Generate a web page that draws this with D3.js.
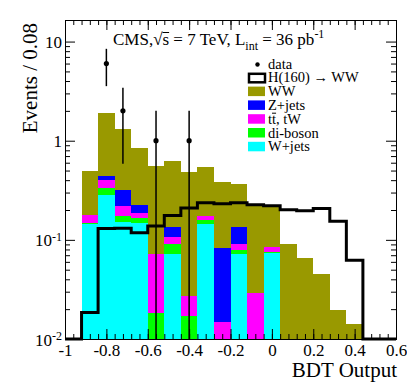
<!DOCTYPE html>
<html>
<head>
<meta charset="utf-8">
<script src="https://d3js.org/d3.v7.min.js"></script>
<style>
  body { margin: 0; background: #fff; }
  text { font-family: "Liberation Serif", "Times New Roman", serif; fill: #000; }
</style>
</head>
<body>
<svg id="chart" width="407" height="390"></svg>
<script>
// bins of BDT output, width 0.08
var binLow = [-1.00, -0.92, -0.84, -0.76, -0.68, -0.60, -0.52, -0.44, -0.36, -0.28,
              -0.20, -0.12, -0.04, 0.04, 0.12, 0.20, 0.28, 0.36, 0.44, 0.52];
var binWidth = 0.08;

// backgrounds, stacked bottom -> top
var wjets   = [0, 0.146, 0.286, 0.151, 0.149, 0, 0.0726, 0, 0.146, 0, 0.0726, 0, 0.0745, 0, 0, 0, 0, 0, 0, 0];
var diboson = [0, 0.003, 0.049, 0.022, 0.018, 0.0185, 0.0174, 0.0171, 0.014, 0, 0.0057, 0, 0.001, 0, 0, 0, 0, 0, 0, 0];
var ttbar   = [0, 0.031, 0.065, 0.049, 0.019, 0.054, 0.017, 0.0101, 0.015, 0.0147, 0.0133, 0.0292, 0.0095, 0, 0, 0, 0, 0, 0, 0];
var zjets   = [0, 0, 0.040, 0.098, 0.040, 0, 0.028, 0, 0, 0.0683, 0.0434, 0, 0, 0, 0, 0, 0, 0, 0, 0];
var ww      = [0, 0.311, 1.48, 0.99, 0.624, 0.484, 0.495, 0.453, 0.37, 0.304, 0.232, 0.188, 0.131, 0.0916, 0.0662, 0.0457, 0.0195, 0.0142, 0, 0];
// signal H(160) -> WW
var higgs   = [0, 0.0185, 0.130, 0.131, 0.118, 0.138, 0.176, 0.209, 0.237, 0.231, 0.237, 0.226, 0.221, 0.201, 0.197, 0.207, 0.154, 0.0622, 0, 0];
// observed events
var dataEv  = [0, 0, 6, 2, 0, 1, 0, 1, 0, 0, 0, 0, 0, 0, 0, 0, 0, 0, 0, 0];

var xMajor = [-1, -0.8, -0.6, -0.4, -0.2, 0, 0.2, 0.4, 0.6];
var xLabels = ["-1", "-0.8", "-0.6", "-0.4", "-0.2", "0", "0.2", "0.4", "0.6"];
var yMajor = [0.01, 0.1, 1, 10];
var yLabBase = ["10", "10", "1", "10"];
var yLabSup = ["-2", "-1", "", ""];

var layers = [
  {name: "W+jets", vals: wjets, color: "#00ffff"},
  {name: "di-boson", vals: diboson, color: "#00ff00"},
  {name: "tt, tW", vals: ttbar, color: "#ff00ff"},
  {name: "Z+jets", vals: zjets, color: "#0000ff"},
  {name: "WW", vals: ww, color: "#999900"}
];

var L = 65, R = 396, T = 20, B = 339;
var yMin = 0.01, yMax = 16.5;
var svg = d3.select("#chart");

var x = d3.scaleLinear().domain([-1, 0.6]).range([L, R]);
var y = d3.scaleLog().domain([yMin, yMax]).range([B, T]);
function yc(v){ return y(Math.max(v, yMin)); }

// stacked histogram
var cum = binLow.map(function(){ return 0; });
layers.forEach(function(ly){
  var g = svg.append("g");
  binLow.forEach(function(lo, i){
    var v0 = cum[i], v1 = cum[i] + ly.vals[i];
    cum[i] = v1;
    if (ly.vals[i] <= 0 || v1 <= yMin) return;
    g.append("rect")
      .attr("x", x(lo)).attr("width", x(lo + binWidth) - x(lo))
      .attr("y", yc(v1)).attr("height", yc(v0) - yc(v1))
      .attr("fill", ly.color)
      .attr("shape-rendering", "crispEdges");
  });
});

// signal step line
var hpts = binLow.map(function(lo, i){ return [lo, higgs[i]]; });
hpts.push([0.6, higgs[higgs.length - 1]]);
svg.append("path")
  .attr("d", d3.line().x(function(d){ return x(d[0]); }).y(function(d){ return yc(d[1]); }).curve(d3.curveStepAfter)(hpts))
  .attr("fill", "none").attr("stroke", "#000").attr("stroke-width", 3);

// data points with sqrt(N) errors
binLow.forEach(function(lo, i){
  var n = dataEv[i];
  if (n <= 0) return;
  var cx = x(lo + binWidth / 2), e = Math.sqrt(n);
  svg.append("line").attr("x1", cx).attr("x2", cx)
    .attr("y1", yc(n + e)).attr("y2", yc(n - e))
    .attr("stroke", "#000").attr("stroke-width", 1.5);
  svg.append("circle").attr("cx", cx).attr("cy", y(n)).attr("r", 2.6).attr("fill", "#000");
});

// axes, ticks inside on all four sides
var xMinor = d3.range(-1, 0.6001, 0.04);
var yMinor = [];
[0.01, 0.1, 1, 10].forEach(function(d){
  for (var k = 2; k <= 9; k++) if (d * k < yMax) yMinor.push(d * k);
});

function clean(g){ g.select(".domain").remove(); g.selectAll("line").attr("stroke", "#000"); }

svg.append("g").attr("transform", "translate(0," + B + ")")
  .call(d3.axisBottom(x).tickValues(xMinor).tickSize(-5).tickFormat("")).call(clean);
svg.append("g").attr("transform", "translate(0," + T + ")")
  .call(d3.axisTop(x).tickValues(xMinor).tickSize(-5).tickFormat("")).call(clean);
svg.append("g").attr("transform", "translate(0," + T + ")")
  .call(d3.axisTop(x).tickValues(xMajor).tickSize(-10).tickFormat("")).call(clean);
var xg = svg.append("g").attr("transform", "translate(0," + B + ")")
  .call(d3.axisBottom(x).tickValues(xMajor).tickSize(-10).tickPadding(5)
    .tickFormat(function(d, i){ return xLabels[i]; })).call(clean);
xg.selectAll("text").style("font-size", "17px").attr("font-family", null);

svg.append("g").attr("transform", "translate(" + L + ",0)")
  .call(d3.axisLeft(y).tickValues(yMinor).tickSize(-5).tickFormat("")).call(clean);
svg.append("g").attr("transform", "translate(" + R + ",0)")
  .call(d3.axisRight(y).tickValues(yMinor).tickSize(-5).tickFormat("")).call(clean);
svg.append("g").attr("transform", "translate(" + R + ",0)")
  .call(d3.axisRight(y).tickValues(yMajor).tickSize(-10).tickFormat("")).call(clean);
var yg = svg.append("g").attr("transform", "translate(" + L + ",0)")
  .call(d3.axisLeft(y).tickValues(yMajor).tickSize(-10).tickPadding(3).tickFormat("")).call(clean);
yg.selectAll(".tick").each(function(d, i){
  var t = d3.select(this).select("text").attr("font-family", null).style("font-size", "17px").attr("dy", "0.36em");
  t.append("tspan").text(yLabBase[i]);
  if (yLabSup[i]) t.append("tspan").attr("dy", "-0.45em").style("font-size", "12px").text(yLabSup[i]);
});

// frame
svg.append("rect").attr("x", L).attr("y", T).attr("width", R - L).attr("height", B - T)
  .attr("fill", "none").attr("stroke", "#000").attr("stroke-width", 1)
  .attr("shape-rendering", "crispEdges");

// axis titles
svg.append("text").attr("x", 397).attr("y", 377).attr("text-anchor", "end")
  .style("font-size", "21px").text("BDT Output");
svg.append("text").attr("transform", "translate(37,23) rotate(-90)").attr("text-anchor", "end")
  .style("font-size", "21px").text("Events / 0.08");

// draw a bar over character idx of a text element
function overline(textSel, idx, lift){
  var node = textSel.node();
  var p0 = node.getStartPositionOfChar(idx), p1 = node.getEndPositionOfChar(idx);
  var ext = node.getExtentOfChar(idx);
  textSel.select(function(){ return this.parentNode; }).append("line")
    .attr("x1", p0.x).attr("x2", p1.x)
    .attr("y1", ext.y + lift).attr("y2", ext.y + lift)
    .attr("stroke", "#000").attr("stroke-width", 1);
}

// title
var ttl = svg.append("text").attr("x", 113).attr("y", 45).style("font-size", "17px");
ttl.append("tspan").text("CMS,\u221As");
ttl.append("tspan").text(" = 7 TeV, L");
ttl.append("tspan").attr("dy", 5).style("font-size", "12px").text("int");
ttl.append("tspan").attr("dy", -5).text(" = 36 pb");
ttl.append("tspan").attr("dy", -7).style("font-size", "12px").text("-1");
overline(ttl, 5, 2.5);

// legend
var lx = 248, lw = 17, tx = 268, row0 = 68.5, dRow = 13.8;
var leg = svg.append("g").style("font-size", "14.5px");
leg.append("circle").attr("cx", lx + lw / 2 + 1).attr("cy", row0 - 4).attr("r", 2.2).attr("fill", "#000");
leg.append("text").attr("x", tx).attr("y", row0).text("data");
leg.append("rect").attr("x", lx + 1).attr("y", row0 + dRow - 8.5).attr("width", lw - 1).attr("height", 8.5)
  .attr("fill", "none").attr("stroke", "#000").attr("stroke-width", 2.5);
leg.append("text").attr("x", tx).attr("y", row0 + dRow).text("H(160) \u2192 WW");
var legItems = [layers[4], layers[3], layers[2], layers[1], layers[0]];
legItems.forEach(function(ly, j){
  var by = row0 + dRow * (j + 2);
  leg.append("rect").attr("x", lx).attr("y", by - 9.5).attr("width", lw).attr("height", 9.5).attr("fill", ly.color);
  var t = leg.append("text").attr("x", tx).attr("y", by).text(ly.name);
  if (ly.name === "tt, tW") overline(t, 1, 2.5);
});
</script>
</body>
</html>
